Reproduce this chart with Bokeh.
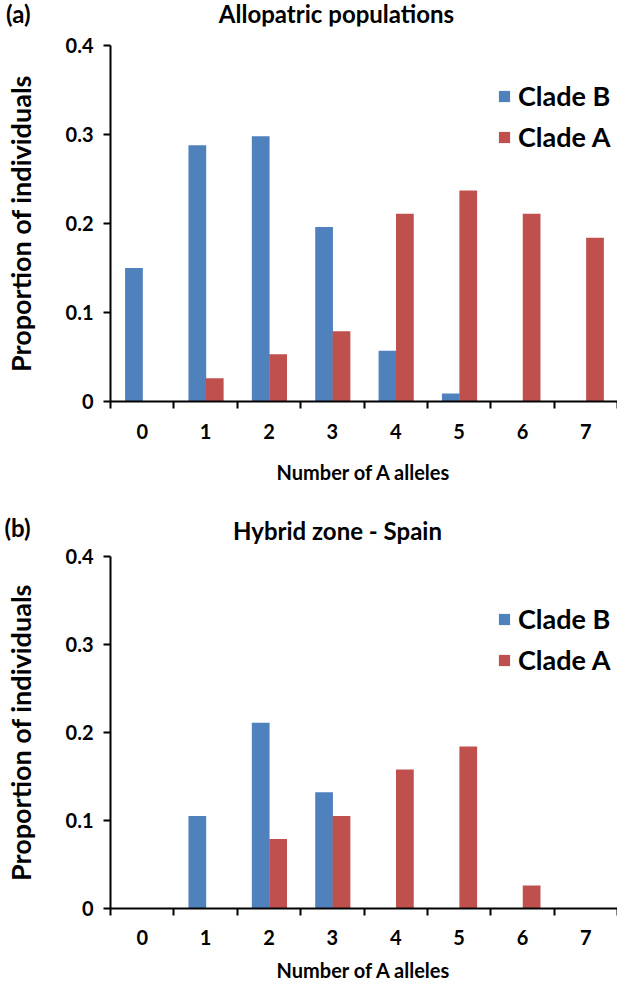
from bokeh.plotting import figure
from bokeh.models import ColumnDataSource, Range1d, FixedTicker, Label
from bokeh.layouts import column
from bokeh.transform import dodge
from bokeh.embed import file_html
from bokeh.resources import INLINE

# ---- data -------------------------------------------------------------
alleles = [0, 1, 2, 3, 4, 5, 6, 7]
allele_labels = ["0", "1", "2", "3", "4", "5", "6", "7"]
y_ticks = [0, 0.1, 0.2, 0.3, 0.4]

allo_clade_b = [0.150, 0.288, 0.298, 0.196, 0.057, 0.009, 0.0, 0.0]
allo_clade_a = [0.0, 0.026, 0.053, 0.079, 0.211, 0.237, 0.211, 0.184]

hybrid_clade_b = [0.0, 0.105, 0.211, 0.132, 0.0, 0.0, 0.0, 0.0]
hybrid_clade_a = [0.0, 0.0, 0.079, 0.105, 0.158, 0.184, 0.026, 0.0]

BLUE = "#4F81BD"
RED = "#C0504D"
FONT = "Lato"
W = 617
LEFT = 110


def make_header(tag, title, height, b_top, b_bottom, title_x, title_y):
    h = figure(width=W, height=height, title=None,
               x_range=Range1d(0, W - LEFT), y_range=Range1d(b_bottom, height - b_top),
               x_axis_type=None, output_backend="svg", toolbar_location=None,
               min_border_left=LEFT, min_border_right=0,
               min_border_top=b_top, min_border_bottom=b_bottom)
    h.outline_line_color = None
    h.xgrid.visible = False
    h.ygrid.visible = False
    ya = h.yaxis[0]
    ya.ticker = FixedTicker(ticks=[], minor_ticks=[])
    ya.axis_line_color = None
    ya.major_tick_line_color = None
    ya.minor_tick_line_color = None
    ya.major_tick_out = 0
    ya.major_tick_in = 0
    ya.minor_tick_out = 0
    ya.minor_tick_in = 0
    ya.major_label_standoff = 0
    ya.axis_label = tag
    ya.axis_label_orientation = "horizontal"
    ya.axis_label_standoff = 80
    ya.axis_label_text_font = FONT
    ya.axis_label_text_font_style = "bold"
    ya.axis_label_text_font_size = "24px"
    ya.axis_label_text_color = "black"
    h.add_layout(Label(x=title_x, y=title_y, text=title, text_align="center",
                       text_baseline="middle", text_font=FONT,
                       text_font_style="bold", text_font_size="24px",
                       text_color="black"))
    return h


def make_panel(clade_b, clade_a, height, b_bottom, legend_y, tick_standoff,
               xlabel_standoff):
    src = ColumnDataSource(dict(alleles=alleles, clade_b=clade_b, clade_a=clade_a))
    p = figure(width=W, height=height, x_range=Range1d(0, 8), y_range=Range1d(0, 0.4),
               output_backend="svg", toolbar_location=None, title=None,
               min_border_left=LEFT, min_border_right=0,
               min_border_top=12, min_border_bottom=b_bottom)
    p.xgrid.visible = False
    p.ygrid.visible = False
    p.outline_line_color = None

    p.vbar(x=dodge("alleles", 0.37), top="clade_b", width=0.28, source=src,
           fill_color=BLUE, line_color=None, legend_label="Clade B")
    p.vbar(x=dodge("alleles", 0.645), top="clade_a", width=0.28, source=src,
           fill_color=RED, line_color=None, legend_label="Clade A")

    centers = [a + 0.5 for a in alleles]
    xa = p.xaxis[0]
    xa.ticker = FixedTicker(ticks=centers, minor_ticks=list(range(0, 9)))
    xa.major_label_overrides = dict(zip(centers, allele_labels))
    xa.major_tick_out = 6
    xa.major_tick_in = 0
    xa.minor_tick_out = 7
    xa.minor_tick_in = 0
    xa.minor_tick_line_color = "black"
    xa.minor_tick_line_width = 2
    xa.major_label_standoff = tick_standoff
    xa.axis_label = "Number of A alleles"
    xa.axis_label_standoff = xlabel_standoff
    xa.axis_label_text_font_size = "20px"

    ya = p.yaxis[0]
    ya.ticker = FixedTicker(ticks=y_ticks, minor_ticks=[])
    ya.major_tick_out = 7
    ya.major_tick_in = 0
    ya.major_tick_line_width = 2
    ya.major_label_standoff = 10
    ya.axis_label = "Proportion of individuals"
    ya.axis_label_standoff = 26
    ya.axis_label_text_font_size = "27px"

    for ax in (xa, ya):
        ax.axis_line_width = 2
        ax.axis_line_color = "black"
        ax.major_label_text_font = FONT
        ax.major_label_text_font_style = "bold"
        ax.major_label_text_font_size = "20px"
        ax.major_label_text_color = "black"
        ax.axis_label_text_font = FONT
        ax.axis_label_text_font_style = "bold"
        ax.axis_label_text_color = "black"
    xa.major_tick_line_color = None
    ya.major_tick_line_color = "black"

    lg = p.legend[0]
    lg.location = (387, legend_y)
    lg.background_fill_alpha = 0
    lg.border_line_color = None
    lg.padding = 0
    lg.margin = 0
    lg.spacing = 8
    lg.label_height = 28
    lg.glyph_height = 14
    lg.glyph_width = 14
    lg.label_standoff = 7
    lg.label_text_font = FONT
    lg.label_text_font_style = "bold"
    lg.label_text_font_size = "27px"
    lg.label_text_color = "black"
    return p


h1 = make_header("(a)", "Allopatric populations", height=33, b_top=0, b_bottom=7,
                 title_x=226, title_y=20)
p1 = make_panel(allo_clade_b, allo_clade_a, height=460, b_bottom=92,
                legend_y=248, tick_standoff=15, xlabel_standoff=18)
h2 = make_header("(b)", "Hybrid zone - Spain", height=51, b_top=17, b_bottom=0,
                 title_x=227, title_y=14)
p2 = make_panel(hybrid_clade_b, hybrid_clade_a, height=442, b_bottom=78,
                legend_y=232, tick_standoff=14, xlabel_standoff=10)

page = column(h1, p1, h2, p2, spacing=0)
open("out.html", "w").write(file_html(page, INLINE))
